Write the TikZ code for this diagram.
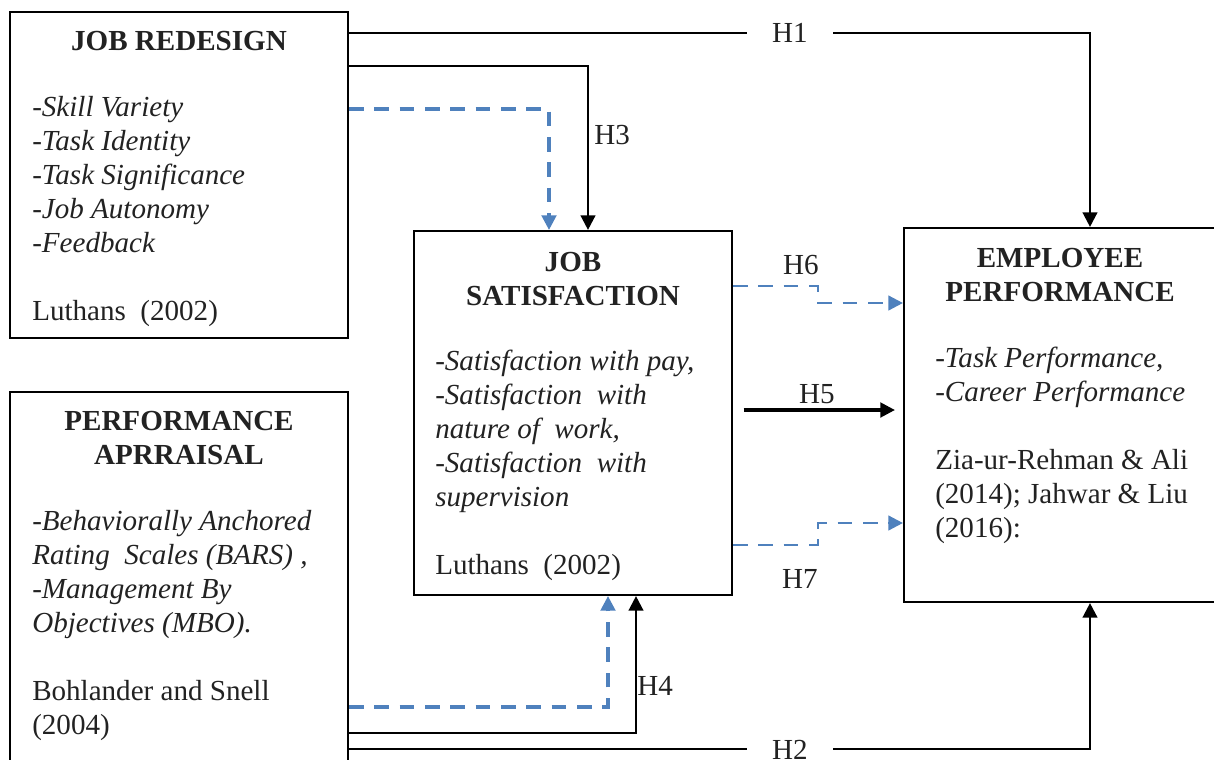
\documentclass[tikz,border=0pt]{standalone}
\usepackage{fontspec}
\setmainfont{Liberation Serif}
\usepackage{xcolor}
\definecolor{linkblue}{HTML}{4F81BD}
\definecolor{inkgray}{HTML}{222222}
\usetikzlibrary{arrows.meta, positioning}

\begin{document}
\fontsize{21.8pt}{25.5pt}\selectfont
\begin{tikzpicture}[x=0.75pt, y=-0.75pt,
  box/.style={rectangle, draw=black, line width=1.6pt, inner sep=0pt},
  title/.style={font=\bfseries, align=center, anchor=base, text=inkgray, inner sep=0pt},
  body/.style={align=left, anchor=base west, text=inkgray, inner sep=0pt},
  link/.style={draw=black, line width=1.8pt, -{Triangle[length=11pt, width=11pt]}},
  dlink/.style={draw=linkblue, line width=2.3pt, dash pattern=on 11pt off 8pt,
    -{Triangle[length=11pt, width=11pt]}},
  hyp/.style={text=inkgray, inner sep=0pt},
  hypgap/.style={hyp, fill=white, inner xsep=19pt, inner ysep=2pt}
]
\clip (0,0) rectangle (1214,760);
\fill[white] (0,0) rectangle (1214,760);

% boxes
\node[box, minimum width=253.5pt, minimum height=244.5pt] (jr) at (179,175) {};
\node[box, minimum width=253.5pt, minimum height=283.5pt] (pa) at (179,581) {};
\node[box, minimum width=238.5pt, minimum height=273pt] (js) at (573,413) {};
\node[box, minimum width=234pt, minimum height=280.5pt] (ep) at (1060,415) {};

% texts (base = last line)
\node[title] (jrtitle) at (179,50) {JOB REDESIGN};
\node[body] (jrbody) at (32,320) {\itshape -Skill Variety\\\itshape -Task Identity\\
  \itshape -Task Significance\\\itshape -Job Autonomy\\\itshape -Feedback\\[25.5pt]
  Luthans~ (2002)};
\node[title] (patitle) at (179,464) {PERFORMANCE\\APRRAISAL};
\node[body] (pabody) at (32,734) {\itshape -Behaviorally Anchored\\
  \itshape Rating~ Scales (BARS) ,\\\itshape -Management By\\
  \itshape Objectives (MBO).\\[25.5pt]Bohlander and Snell\\(2004)};
\node[title] (jstitle) at (573,305) {JOB\\SATISFACTION};
\node[body] (jsbody) at (435,574) {\itshape -Satisfaction with pay,\\
  \itshape -Satisfaction~ with\\\itshape nature of~ work,\\
  \itshape -Satisfaction~ with\\\itshape supervision\\[25.5pt]Luthans~ (2002)};
\node[title] (eptitle) at (1060,301) {EMPLOYEE\\PERFORMANCE};
\node[body] (epbody) at (935,537) {\itshape -Task Performance,\\
  \itshape -Career Performance\\[25.5pt]Zia-ur-Rehman \& Ali\\
  (2014); Jahwar \& Liu\\(2016):};

% connectors
\draw[link] (jr.east |- 0,33) -| (ep.north -| 1090,0);
\draw[link] (jr.east |- 0,66) -| (js.north -| 588,0);
\draw[dlink] (jr.east |- 0,109) -| (js.north -| 549,0);
\draw[dlink, line width=1.9pt] (js.east |- 0,286) -| (818,303) -- (ep.west |- 0,303);
\draw[link, line width=2.3pt, shorten <=8pt, shorten >=6pt] (js.east |- 0,410) -- (ep.west |- 0,410);
\draw[dlink, line width=1.9pt] (js.east |- 0,545) -| (818,523) -- (ep.west |- 0,523);
\draw[dlink] (pa.east |- 0,707) -| (js.south -| 608,0);
\draw[link] (pa.east |- 0,733) -| (js.south -| 636,0);
\draw[link] (pa.east |- 0,749) -| (ep.south -| 1090,0);

% hypothesis labels
\node[hypgap] (h1) at (790,33) {H1};
\node[hyp, anchor=base west] (h3) at (594,144) {H3};
\node[hyp, anchor=base] (h6) at (801,274) {H6};
\node[hyp, anchor=base] (h5) at (817,403) {H5};
\node[hyp, anchor=base] (h7) at (800,588) {H7};
\node[hyp, anchor=base west] (h4) at (637,695) {H4};
\node[hypgap] (h2) at (790,750) {H2};
\end{tikzpicture}
\end{document}
